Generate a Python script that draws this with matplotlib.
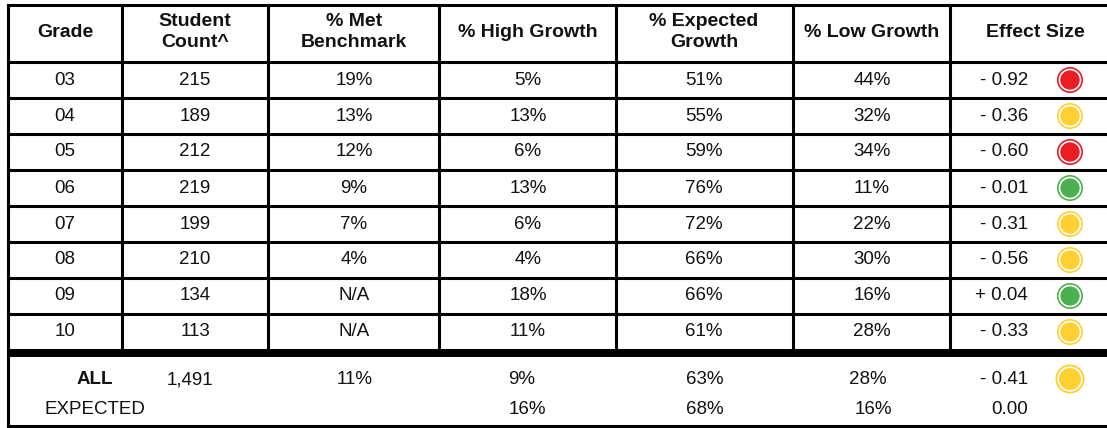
import matplotlib.pyplot as plt
from matplotlib.patches import Circle

plt.rcParams['font.family'] = ['Liberation Sans', 'DejaVu Sans']

# data
headers = ["Grade", "Student\nCount^", "% Met\nBenchmark", "% High Growth",
           "% Expected\nGrowth", "% Low Growth", "Effect Size"]
grades = ["03", "04", "05", "06", "07", "08", "09", "10"]
counts = ["215", "189", "212", "219", "199", "210", "134", "113"]
met_bench = ["19%", "13%", "12%", "9%", "7%", "4%", "N/A", "N/A"]
high_growth = ["5%", "13%", "6%", "13%", "6%", "4%", "18%", "11%"]
expected_growth = ["51%", "55%", "59%", "76%", "72%", "66%", "66%", "61%"]
low_growth = ["44%", "32%", "34%", "11%", "22%", "30%", "16%", "28%"]
effect = ["- 0.92", "- 0.36", "- 0.60", "- 0.01", "- 0.31", "- 0.56", "+ 0.04", "- 0.33"]
rating = ["red", "yellow", "red", "green", "yellow", "yellow", "green", "yellow"]

all_row = ["ALL", "1,491", "11%", "9%", "63%", "28%", "- 0.41"]
all_rating = "yellow"
expected_row = ["EXPECTED", "", "", "16%", "68%", "16%", "0.00"]

colors = {"red": "#EC1C24", "yellow": "#FFD02F", "green": "#4CB050"}
txt = "#111111"

# layout (pixels)
col_x = [8, 122, 268, 439, 616, 793, 950, 1108]
col_c = [65, 195, 354, 528, 704, 872]
top, head_bot, row_h = 5, 62, 36
eff_right = 1028
dot_x = 1070

fig = plt.figure(figsize=(11.07, 4.28), dpi=100)
ax = fig.add_axes([0, 0, 1, 1])
ax.set_xlim(0, 1107)
ax.set_ylim(428, 0)
ax.axis('off')

lw = 2.2
n = len(grades)
body_bot = head_bot + row_h * n
bottom = 426

# grid lines
ax.plot([col_x[0], 1107], [top, top], color='black', lw=lw)
for i in range(n):
    y = head_bot + row_h * i
    ax.plot([col_x[0], 1107], [y, y], color='black', lw=lw)
for x in col_x[1:-1]:
    ax.plot([x, x], [top, body_bot], color='black', lw=lw)
ax.plot([col_x[0], col_x[0]], [top, bottom], color='black', lw=lw)
ax.fill_between([col_x[0] - 1, 1107], body_bot - 1, body_bot + 7, color='black', lw=0)
ax.plot([col_x[0], 1107], [bottom, bottom], color='black', lw=lw)

# headers
hx = col_c + [1035]
for x, h in zip(hx, headers):
    ax.text(x, 32, h, ha='center', va='center', fontsize=14, fontweight='bold',
            color=txt, linespacing=1.25)

# body rows
fs = 13.5
for i in range(n):
    y = head_bot + row_h * i + 18
    vals = [grades[i], counts[i], met_bench[i], high_growth[i],
            expected_growth[i], low_growth[i]]
    for x, v in zip(col_c, vals):
        ax.text(x, y, v, ha='center', va='center', fontsize=fs, color=txt)
    ax.text(eff_right, y, effect[i], ha='right', va='center', fontsize=fs, color=txt)
    c = colors[rating[i]]
    ax.add_patch(Circle((dot_x, y), 13, color=c, lw=0))
    ax.add_patch(Circle((dot_x, y), 10.5, facecolor='none', edgecolor='white', lw=1.2))

# summary rows
ya, ye = 380, 410
ax.text(95, ya, all_row[0], ha='center', va='center', fontsize=fs, fontweight='bold', color=txt)
ax.text(190, ya, all_row[1], ha='center', va='center', fontsize=fs, color=txt)
for x, v in zip([355, 522, 705, 868], all_row[2:6]):
    ax.text(x, ya, v, ha='center', va='center', fontsize=fs, color=txt)
ax.text(eff_right, ya, all_row[6], ha='right', va='center', fontsize=fs, color=txt)
ax.add_patch(Circle((dot_x, ya - 1), 14.5, color=colors[all_rating], lw=0))
ax.add_patch(Circle((dot_x, ya - 1), 11.8, facecolor='none', edgecolor='white', lw=1.2))

ax.text(95, ye, expected_row[0], ha='center', va='center', fontsize=fs, color=txt)
for x, v in zip([527, 705, 873], expected_row[3:6]):
    ax.text(x, ye, v, ha='center', va='center', fontsize=fs, color=txt)
ax.text(eff_right, ye, expected_row[6], ha='right', va='center', fontsize=fs, color=txt)

fig.savefig('out.png', dpi=100)
